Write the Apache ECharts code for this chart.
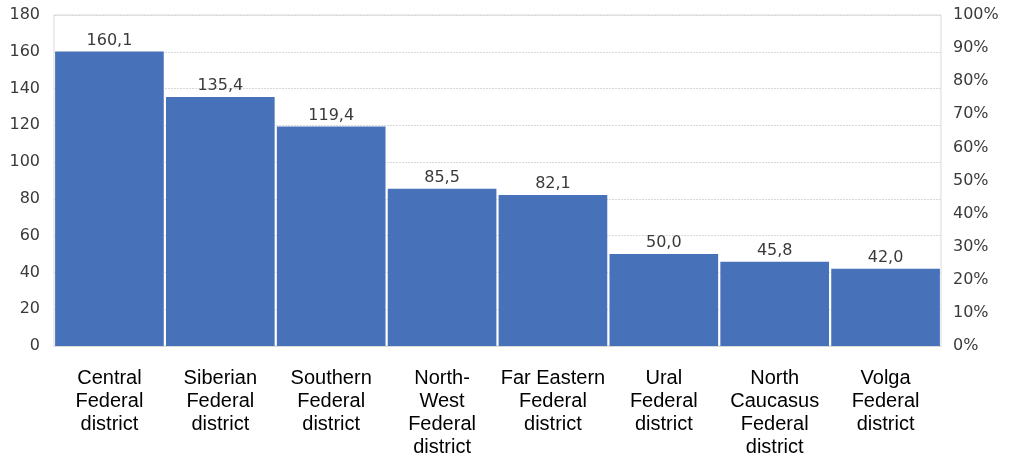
<!DOCTYPE html>
<html>
<head>
  <meta charset="utf-8">
  <title>Federal districts</title>
  <script src="https://cdn.jsdelivr.net/npm/echarts@6/dist/echarts.min.js"></script>
  <style>
    html, body { margin: 0; padding: 0; background: #fff; }
    #chart { width: 1011px; height: 460px; }
  </style>
</head>
<body>
<div id="chart"></div>
<script>
  // data
  var districts = [
    'Central\nFederal\ndistrict',
    'Siberian\nFederal\ndistrict',
    'Southern\nFederal\ndistrict',
    'North-\nWest\nFederal\ndistrict',
    'Far Eastern\nFederal\ndistrict',
    'Ural\nFederal\ndistrict',
    'North\nCaucasus\nFederal\ndistrict',
    'Volga\nFederal\ndistrict'
  ];
  var values = [160.1, 135.4, 119.4, 85.5, 82.1, 50.0, 45.8, 42.0];
  var leftTicks = { min: 0, max: 180, interval: 20 };
  var rightTicks = { min: 0, max: 100, interval: 10 };

  var numFont = '"DejaVu Sans", "Noto Sans", sans-serif';
  var myChart = echarts.init(document.getElementById('chart'));

  var option = {
    animation: false,
    grid: { left: 54, right: 70, top: 15, bottom: 114, show: true, borderColor: '#d9d9d9', borderWidth: 1 },
    xAxis: {
      type: 'category',
      data: districts,
      axisLine: { show: true, lineStyle: { color: '#d9d9d9' } },
      axisTick: { show: false },
      axisLabel: {
        interval: 0,
        margin: 21,
        color: '#000',
        fontSize: 20,
        lineHeight: 23,
        fontFamily: '"Liberation Sans", Arial, sans-serif',
        verticalAlign: 'top'
      }
    },
    yAxis: [
      {
        type: 'value',
        min: leftTicks.min,
        max: leftTicks.max,
        interval: leftTicks.interval,
        axisLine: { show: false },
        axisTick: { show: false },
        axisLabel: { color: '#3a3a3a', fontSize: 16, fontFamily: numFont, margin: 14 },
        splitLine: { lineStyle: { color: '#d9d9d9', type: [2, 1] } }
      },
      {
        type: 'value',
        min: rightTicks.min,
        max: rightTicks.max,
        interval: rightTicks.interval,
        position: 'right',
        axisLine: { show: false },
        axisTick: { show: false },
        axisLabel: { color: '#3a3a3a', fontSize: 16, fontFamily: numFont, margin: 12, formatter: '{value}%' },
        splitLine: { show: false }
      }
    ],
    series: [
      {
        type: 'bar',
        data: values,
        barCategoryGap: '2%',
        itemStyle: { color: '#4771b8' },
        label: {
          show: true,
          position: 'top',
          distance: 3,
          color: '#3a3a3a',
          fontSize: 16,
          fontFamily: numFont,
          formatter: function (p) { return p.value.toFixed(1).replace('.', ','); }
        }
      }
    ]
  };
  myChart.setOption(option);
</script>
</body>
</html>
